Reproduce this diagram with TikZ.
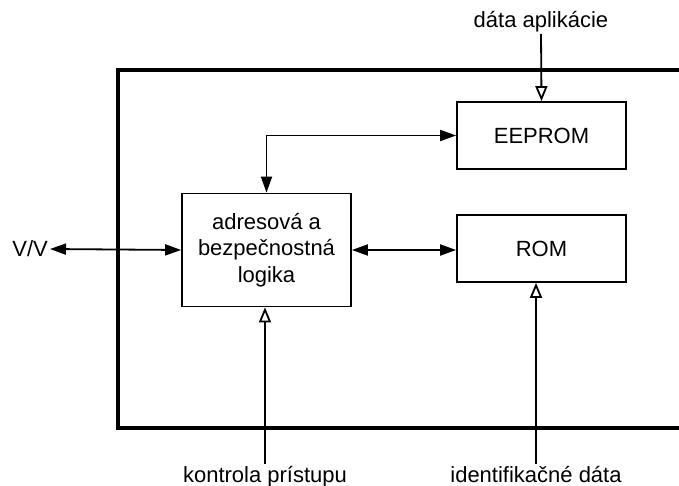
\documentclass[tikz,border=0pt]{standalone}
\usepackage{fontspec}
\setmainfont{Liberation Sans}
\usetikzlibrary{arrows.meta}
\begin{document}
\begin{tikzpicture}[x=1pt,y=-1pt,
  every node/.style={font=\fontsize{22}{26.5}\selectfont},
  block/.style={draw,line width=1.8pt,rectangle,inner sep=0pt,align=center},
  label/.style={inner sep=2pt},
  link/.style={line width=1.8pt},
  bothtips/.style={{Triangle[length=16pt,width=11pt]}-{Triangle[length=16pt,width=11pt]}},
  opentip/.style={-{Triangle[open,length=15pt,width=12pt,line width=1.8pt]}},
  frame/.style={line width=4pt}]
\useasboundingbox (0,0) rectangle (679,486);

% chip boundary, open towards the right
\draw[frame] (690,70) -- (118,70) -- (118,428) -- (690,428);

% blocks
\node[block,minimum width=169pt,minimum height=113pt] (logic) at (266.5,250) {adresová a\\bezpečnostná\\logika};
\node[block,minimum width=169pt,minimum height=67pt] (eeprom) at (541.5,135.5) {EEPROM};
\node[block,minimum width=169pt,minimum height=67pt] (rom) at (541.5,248.5) {ROM};

% outside labels
\node[label,anchor=south] (app) at (541,34) {dáta aplikácie};
\node[label,anchor=east] (io) at (50,249) {V/V};
\node[label,anchor=north] (acc) at (265,464) {kontrola prístupu};
\node[label,anchor=north] (ident) at (536,464) {identifikačné dáta};
\coordinate (bend) at (logic.north |- eeprom.west);

% connectors
\draw[link,bothtips] (io.east) -- (logic.west);
\draw[link,bothtips] (logic.north) -- (bend) -- (eeprom.west);
\draw[link,bothtips] (logic.east) -- (logic.east -| rom.west);
\draw[link,opentip] (app.south) -- (eeprom.north);
\draw[link,opentip] (acc.north) -- (acc.north |- logic.south);
\draw[link,opentip] (ident.north) -- (ident.north |- rom.south);
\end{tikzpicture}
\end{document}
